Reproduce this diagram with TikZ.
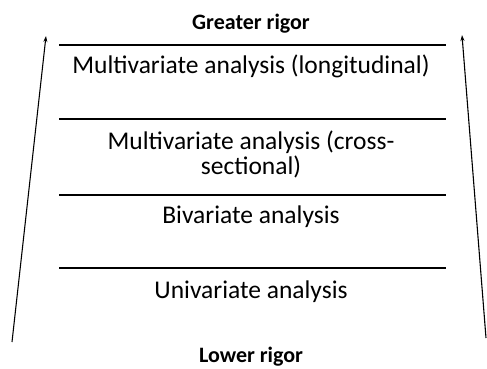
\documentclass[tikz,border=0pt]{standalone}
\usepackage{fontspec}
\setmainfont{Carlito}
\usetikzlibrary{arrows.meta,positioning}

\begin{document}
\begin{tikzpicture}[x=1pt,y=1pt]
    \tikzset{lvl/.style={font=\fontsize{25.5}{25}\selectfont,align=center,inner sep=0pt},
      rig/.style={font=\bfseries\fontsize{22}{26}\selectfont,inner sep=0pt},
      sep/.style={line width=1.1pt},
      up/.style={line width=1.1pt,-{Stealth[length=6pt,width=4pt]}}}
    \useasboundingbox (0,0) rectangle (487,368);
    \node[rig] (top) at (251,344) {Greater rigor};
    \node[lvl] (long) at (251,302) {Multivariate analysis (longitudinal)};
    \node[lvl] (cross) at (251,214) {Multivariate analysis (cross-\\sectional)};
    \node[lvl] (bi) at (251,151) {Bivariate analysis};
    \node[lvl] (uni) at (251,76) {Univariate analysis};
    \node[rig] (low) at (251,11.5) {Lower rigor};
    % separators between the levels
    \foreach \y in {323,249,173,100}
      \draw[sep] (59,\y) -- (446,\y);
    % rising arrows at both sides
    \coordinate (lb) at (12,26);
    \coordinate (lt) at (46,332);
    \coordinate (rb) at (486,30);
    \coordinate (rt) at (462,333);
    \draw[up] (lb) -- (lt);
    \draw[up] (rb) -- (rt);
  \end{tikzpicture}
\end{document}
